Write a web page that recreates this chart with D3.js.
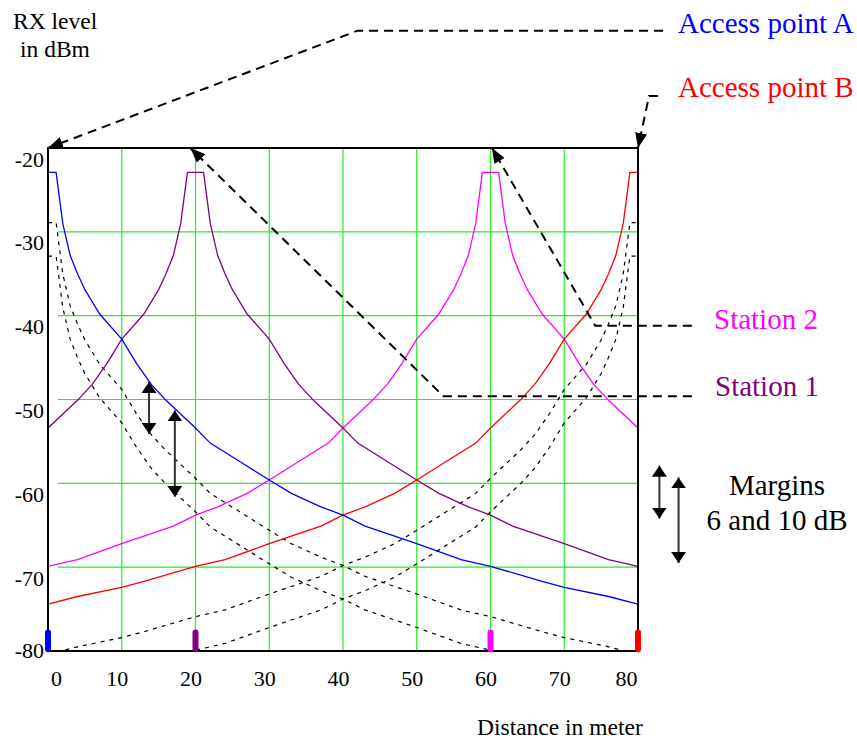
<!DOCTYPE html>
<html>
<head>
<meta charset="utf-8">
<script src="https://cdn.jsdelivr.net/npm/d3@7/dist/d3.min.js"></script>
<style>
  body { margin: 0; background: #fff; }
  text { font-family: "Liberation Serif", "Times New Roman", serif; }
</style>
</head>
<body>
<div id="chart"></div>
<script>
// RX level (dBm) against distance (m)
const accessPointA = [[0,-22.9],[1.1,-22.9],[2,-29.0],[3,-32.8],[4,-35.0],[5,-36.9],[7,-39.8],[10,-42.8],[12,-45.7],[14,-48.2],[16,-50.1],[20,-53.4],[22,-55.2],[26,-57.4],[30,-59.6],[33,-61.2],[37,-62.8],[40,-63.8],[43,-65.1],[50,-67.2],[56,-69.1],[60,-69.9],[67,-71.7],[70,-72.4],[76,-73.5],[80,-74.4]];
const accessPointB = [[0,-74.4],[4,-73.5],[10,-72.4],[13,-71.7],[20,-69.9],[24,-69.1],[30,-67.2],[37,-65.1],[40,-63.8],[43,-62.8],[47,-61.2],[50,-59.6],[54,-57.4],[58,-55.2],[60,-53.4],[64,-50.1],[66,-48.2],[68,-45.7],[70,-42.8],[73,-39.8],[75,-36.9],[76,-35.0],[77,-32.8],[78,-29.0],[78.9,-22.9],[80,-22.9]];
const station1 = [[0,-53.4],[4,-50.1],[6,-48.2],[8,-45.7],[10,-42.8],[13,-39.8],[15,-36.9],[16,-35.0],[17,-32.8],[18,-29.0],[18.9,-22.9],[21.1,-22.9],[22,-29.0],[23,-32.8],[24,-35.0],[25,-36.9],[27,-39.8],[30,-42.8],[32,-45.7],[34,-48.2],[36,-50.1],[40,-53.4],[42,-55.2],[46,-57.4],[50,-59.6],[53,-61.2],[57,-62.8],[60,-63.8],[63,-65.1],[70,-67.2],[76,-69.1],[80,-69.9]];
const station2 = [[0,-69.9],[4,-69.1],[10,-67.2],[17,-65.1],[20,-63.8],[23,-62.8],[27,-61.2],[30,-59.6],[34,-57.4],[38,-55.2],[40,-53.4],[44,-50.1],[46,-48.2],[48,-45.7],[50,-42.8],[53,-39.8],[55,-36.9],[56,-35.0],[57,-32.8],[58,-29.0],[58.9,-22.9],[61.1,-22.9],[62,-29.0],[63,-32.8],[64,-35.0],[65,-36.9],[67,-39.8],[70,-42.8],[72,-45.7],[74,-48.2],[76,-50.1],[80,-53.4]];
const fadeMargins = [6, 10];           // dB, dotted lines under the access points
const positions = [0, 20, 60, 80];     // where AP A, station 1, station 2, AP B stand
const xTicks = [0, 10, 20, 30, 40, 50, 60, 70, 80];
const yTicks = [-20, -30, -40, -50, -60, -70, -80];

const colors = {apA: "#0000ff", apB: "#ff0000", st1: "#800080", st2: "#ff00ff"};

const margin = {top: 148, right: 219, bottom: 89, left: 48},
  width = 857 - margin.left - margin.right,
  height = 740 - margin.top - margin.bottom;

const svg = d3.select("#chart").append("svg")
  .attr("width", 857).attr("height", 740);

const defs = svg.append("defs");
defs.append("clipPath").attr("id", "plot")
  .append("rect").attr("width", width).attr("height", height);
defs.append("marker").attr("id", "tip")
  .attr("markerUnits", "userSpaceOnUse").attr("viewBox", "0 0 15 12")
  .attr("markerWidth", 15).attr("markerHeight", 12).attr("refX", 15).attr("refY", 6)
  .attr("orient", "auto")
  .append("path").attr("d", "M0,0L15,6L0,12Z").attr("fill", "#000");
defs.append("marker").attr("id", "dbl")
  .attr("markerUnits", "userSpaceOnUse").attr("viewBox", "0 0 11 15")
  .attr("markerWidth", 11).attr("markerHeight", 15).attr("refX", 11).attr("refY", 7.5)
  .attr("orient", "auto-start-reverse")
  .append("path").attr("d", "M0,0L11,7.5L0,15Z").attr("fill", "#000");

const g = svg.append("g")
  .attr("transform", "translate(" + margin.left + "," + margin.top + ")");

const x = d3.scaleLinear().domain([0, 80]).range([0, width]);
const y = d3.scaleLinear().domain([-80, -20]).range([height, 0]);

// grid
g.selectAll(".vgrid").data(xTicks.filter(d => d > 0 && d < 80)).enter()
  .append("line")
  .attr("x1", d => x(d)).attr("x2", d => x(d))
  .attr("y1", 0).attr("y2", height)
  .attr("stroke", "#22ee22").attr("stroke-width", 1.2);
g.selectAll(".hgrid").data(yTicks.filter(d => d > -80 && d < -20)).enter()
  .append("line")
  .attr("x1", 10).attr("x2", width)
  .attr("y1", d => y(d)).attr("y2", d => y(d))
  .attr("stroke", "#22ee22").attr("stroke-width", 1.2);

// axes (labels only, frame drawn below)
const xaxis = g.append("g")
  .attr("transform", "translate(0," + height + ")")
  .call(d3.axisBottom(x).tickValues(xTicks).tickSize(0).tickPadding(19));
xaxis.select(".domain").remove();
xaxis.selectAll("text")
  .attr("font-size", 22).attr("fill", "#000")
  .attr("dx", d => d === 0 ? 8 : d === 80 ? -12 : -5);

const yaxis = g.append("g")
  .call(d3.axisLeft(y).tickValues(yTicks).tickSize(0).tickPadding(4)
    .tickFormat(d => String(d)));
yaxis.select(".domain").remove();
yaxis.selectAll("text")
  .attr("font-size", 22).attr("fill", "#000")
  .attr("dy", d => d === -80 ? 6 : 18);

const line = d3.line()
  .x(d => x(d[0]))
  .y(d => y(d[1]));

const curves = g.append("g").attr("clip-path", "url(#plot)");

// margin lines under both access points
[accessPointA, accessPointB].forEach(function(s) {
  fadeMargins.forEach(function(m) {
    curves.append("path")
      .attr("fill", "none").attr("stroke", "#000")
      .attr("stroke-width", 1.2).attr("stroke-dasharray", "4,5")
      .attr("d", line(s.map(p => [p[0], p[1] - m])));
  });
});

const series = [
  {id: "st2", values: station2},
  {id: "st1", values: station1},
  {id: "apB", values: accessPointB},
  {id: "apA", values: accessPointA}
];
curves.selectAll(".curve").data(series).enter()
  .append("path")
  .attr("fill", "none")
  .attr("stroke", d => colors[d.id])
  .attr("stroke-width", 1.3)
  .attr("d", d => line(d.values));

// frame
g.append("rect")
  .attr("width", width).attr("height", height)
  .attr("fill", "none").attr("stroke", "#000").attr("stroke-width", 2);

// positions of the devices on the bottom axis
const markColors = [colors.apA, colors.st1, colors.st2, colors.apB];
g.selectAll(".pos").data(positions).enter()
  .append("line")
  .attr("x1", d => x(d)).attr("x2", d => x(d))
  .attr("y1", y(-77.8)).attr("y2", y(-79.8))
  .attr("stroke", (d, i) => markColors[i])
  .attr("stroke-width", 6).attr("stroke-linecap", "round");

// leader lines from the labels to the devices, in data units
const leaders = [
  [[83.4, -6.0], [42.0, -6.0], [0, -20]],
  [[82.7, -13.8], [81.5, -13.8], [80, -20]],
  [[87.3, -41.2], [74.2, -41.2], [60.2, -20]],
  [[87.3, -49.6], [53.6, -49.6], [19.3, -20]]
];
g.selectAll(".leader").data(leaders).enter()
  .append("path")
  .attr("fill", "none").attr("stroke", "#000")
  .attr("stroke-width", 2).attr("stroke-dasharray", "9,6")
  .attr("marker-end", "url(#tip)")
  .attr("d", d => line(d));

// margin arrows (6 dB and 10 dB)
const marginArrows = [
  [13.7, -47.9, -54.1],
  [17.2, -51.3, -61.6],
  [82.9, -57.9, -64.2],
  [85.5, -59.3, -69.5]
];
g.selectAll(".marg").data(marginArrows).enter()
  .append("line")
  .attr("x1", d => x(d[0])).attr("x2", d => x(d[0]))
  .attr("y1", d => y(d[1])).attr("y2", d => y(d[2]))
  .attr("stroke", "#333").attr("stroke-width", 2)
  .attr("marker-start", "url(#dbl)").attr("marker-end", "url(#dbl)");

// texts
const labels = [
  {t: "RX level", x: 13, y: 29, size: 23.5, c: "#000"},
  {t: "in dBm", x: 20, y: 57, size: 23.5, c: "#000"},
  {t: "Access point A", x: 678, y: 33, size: 29, c: colors.apA},
  {t: "Access point B", x: 678, y: 97, size: 29, c: colors.apB},
  {t: "Station 2", x: 714, y: 329, size: 29, c: colors.st2},
  {t: "Station 1", x: 715, y: 396, size: 29, c: colors.st1},
  {t: "Margins", x: 777, y: 495, size: 29, c: "#000", a: "middle"},
  {t: "6 and 10 dB", x: 777, y: 530, size: 29, c: "#000", a: "middle"},
  {t: "Distance in meter", x: 477, y: 735, size: 23.5, c: "#000"}
];
svg.selectAll(".lbl").data(labels).enter()
  .append("text")
  .attr("x", d => d.x).attr("y", d => d.y)
  .attr("font-size", d => d.size)
  .attr("fill", d => d.c)
  .attr("text-anchor", d => d.a || "start")
  .text(d => d.t);
</script>
</body>
</html>
